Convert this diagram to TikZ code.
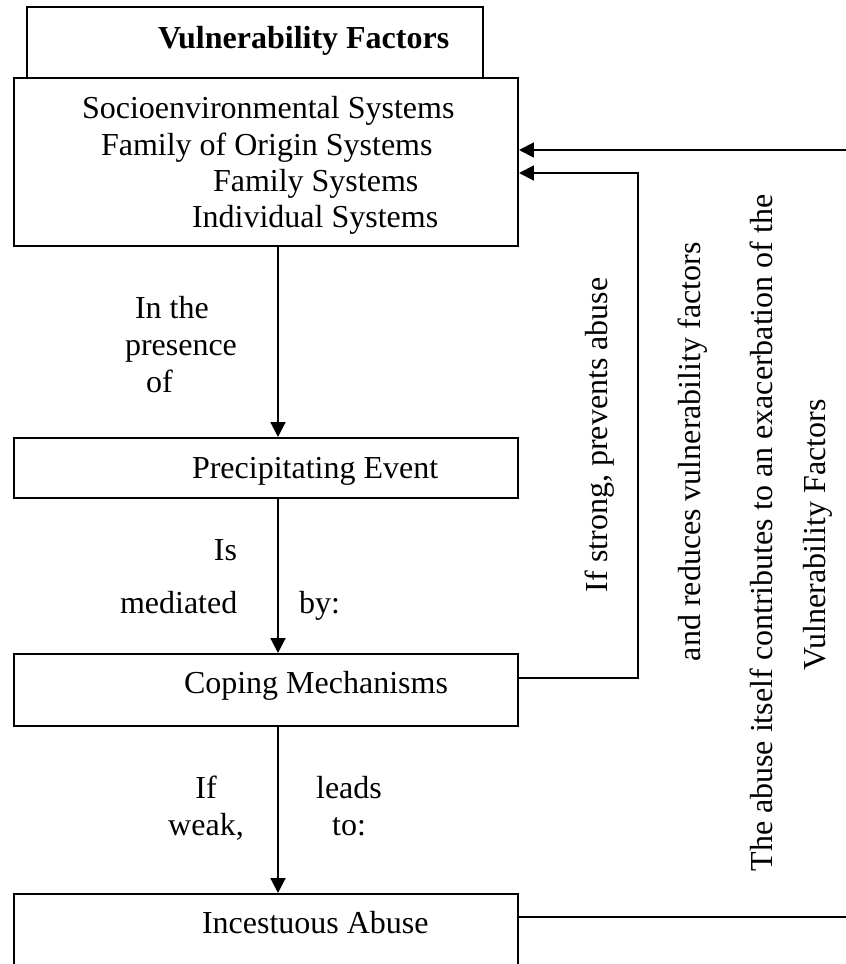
\documentclass[12pt,tikz,border=0pt]{standalone}
\usepackage{fontspec}
\setmainfont{Liberation Serif}
\usetikzlibrary{arrows.meta}
\tikzset{
  box/.style={draw, inner sep=0pt, minimum width=189pt},
  lbl/.style={inner sep=0pt, anchor=base west},
  mid/.style={inner sep=0pt, anchor=base},
  >={Triangle[length=5.6pt,width=5.6pt]}
}
\begin{document}
\begin{tikzpicture}[x=.375pt, y=-.375pt, line width=.75pt]
  \useasboundingbox (0,0) rectangle (846,964);
  \clip (0,0) rectangle (846,964);
  % boxes
  \node [box, minimum width=171pt, minimum height=26.625pt] (title) at (255,42.5) {};
  \node [box, minimum height=63pt] (vuln) at (266,162) {};
  \node [box, minimum height=22.5pt] (precip) at (266,468) {};
  \node [box, minimum height=27pt] (coping) at (266,690) {};
  \node [box, minimum height=33.75pt] (incest) at (266,939) {};
  % box texts
  \node [lbl] (titletext) at (157,48) {\textbf{Vulnerability Factors}};
  \node [lbl] (socio) at (81,118) {Socioenvironmental Systems};
  \node [lbl] (origin) at (100,155) {Family of Origin Systems};
  \node [lbl] (family) at (212,191) {Family Systems};
  \node [lbl] (indiv) at (191,227) {Individual Systems};
  \node [lbl] (precipt) at (191,478) {Precipitating Event};
  \node [lbl] (copingt) at (183,693) {Coping Mechanisms};
  \node [lbl] (incestt) at (201,933) {Incestuous Abuse};
  % connectors
  \coordinate (spine) at (278,0);
  \coordinate (ret) at (638,173);
  \coordinate (edge) at (848,150);
  \draw [->] (vuln.south -| spine) -- (precip.north -| spine);
  \draw [->] (precip.south -| spine) -- (coping.north -| spine);
  \draw [->] (coping.south -| spine) -- (incest.north -| spine);
  \draw [->] ([yshift=4.5pt]coping.east) -| (ret) -- (vuln.east |- ret);
  \draw [->] ([yshift=8.25pt]incest.east) -| (edge) -- (vuln.east |- edge);
  % labels
  \node [lbl] (inthe) at (134,318) {In the};
  \node [lbl] (presence) at (124,355) {presence};
  \node [lbl] (of) at (145,392) {of};
  \node [lbl, anchor=base east] (is) at (238,560) {Is};
  \node [lbl] (mediated) at (119,613) {mediated};
  \node [lbl] (by) at (298,613) {by:};
  \node [mid] (if) at (206,798) {If};
  \node [mid] (weak) at (206,835) {weak,};
  \node [mid] (leads) at (349,798) {leads};
  \node [mid] (to) at (349,835) {to:};
  \node [lbl, rotate=90] (strong) at (607,593) {If strong,  prevents abuse};
  \node [lbl, rotate=90] (reduces) at (700,662) {and reduces vulnerability factors};
  \node [mid, rotate=90] (exacerb) at (772,533) {The abuse itself contributes to an exacerbation of the};
  \node [mid, rotate=90] (vulnf) at (825,535) {Vulnerability Factors};
\end{tikzpicture}
\end{document}
